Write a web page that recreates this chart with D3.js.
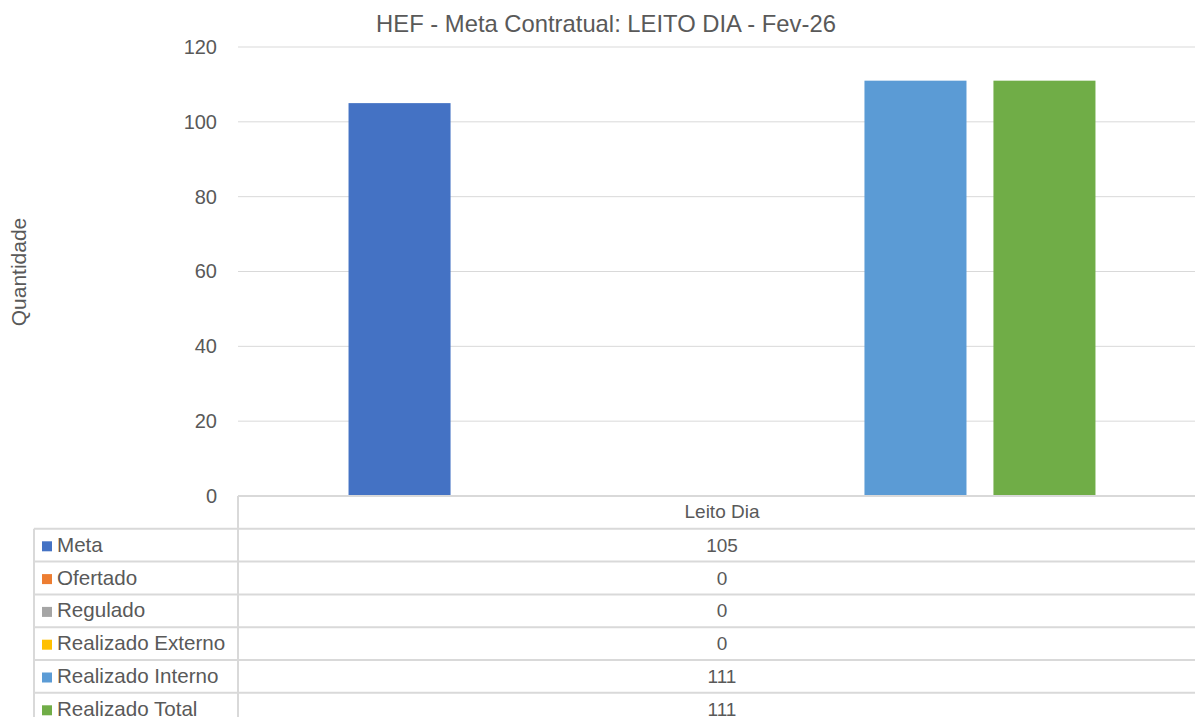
<!DOCTYPE html>
<html>
<head>
<meta charset="utf-8">
<script src="https://cdn.jsdelivr.net/npm/d3@7"></script>
<style>
  body { margin: 0; background: #fff; }
  svg { font-family: "Liberation Sans", Arial, sans-serif; }
</style>
</head>
<body>
<svg id="chart" width="1195" height="717"></svg>
<script>
const categories = ["Leito Dia"];
const seriesNames = ["Meta", "Ofertado", "Regulado", "Realizado Externo", "Realizado Interno", "Realizado Total"];
const seriesValues = [105, 0, 0, 0, 111, 111];
const seriesColors = ["#4472C4", "#ED7D31", "#A5A5A5", "#FFC000", "#5B9BD5", "#70AD47"];
const yTicks = [0, 20, 40, 60, 80, 100, 120];

const svg = d3.select("#chart");
const plot = { left: 238, right: 1206, top: 47, bottom: 496 };
const gridColor = "#d9d9d9";
const textColor = "#595959";

// title
svg.append("text")
    .attr("x", 606)
    .attr("y", 32)
    .attr("text-anchor", "middle")
    .attr("fill", textColor)
    .style("font-size", "23.8px")
    .text("HEF - Meta Contratual: LEITO DIA - Fev-26");

// y axis label
svg.append("text")
    .attr("transform", "translate(26,272) rotate(-90)")
    .attr("text-anchor", "middle")
    .attr("fill", textColor)
    .style("font-size", "21px")
    .text("Quantidade");

const y = d3.scaleLinear().domain([0, 120]).range([plot.bottom, plot.top]);
const x0 = d3.scaleBand().domain(categories).range([plot.left, plot.right]);
const x1 = d3.scaleBand().domain(seriesNames)
    .range([0, x0.bandwidth()]).paddingInner(0.209).paddingOuter(0.857);

// gridlines
svg.append("g")
    .selectAll("line")
    .data(yTicks.slice(1))
    .join("line")
    .attr("x1", plot.left)
    .attr("x2", plot.right)
    .attr("y1", d => y(d))
    .attr("y2", d => y(d))
    .attr("stroke", gridColor)
    .attr("stroke-width", 1);

// y ticks
const yAxis = svg.append("g")
    .attr("transform", `translate(${plot.left},0)`)
    .call(d3.axisLeft(y).tickValues(yTicks).tickSize(0).tickPadding(21));
yAxis.select(".domain").remove();
yAxis.selectAll("text")
    .attr("fill", textColor)
    .style("font-size", "20px")
    .style("font-family", "Liberation Sans, Arial, sans-serif");

// bars
const group = svg.append("g")
    .selectAll("g")
    .data(categories)
    .join("g")
    .attr("transform", d => `translate(${x0(d)},0)`);

group.selectAll("rect")
    .data(() => seriesNames.map((s, i) => ({ s, v: seriesValues[i], color: seriesColors[i] })))
    .join("rect")
    .attr("x", d => x1(d.s))
    .attr("width", x1.bandwidth())
    .attr("y", d => y(d.v))
    .attr("height", d => y(0) - y(d.v))
    .attr("fill", d => d.color);

// data table
const rowH = 32.8;
const tableLeft = 34;
const tableTop = plot.bottom;
const tbl = svg.append("g");

tbl.append("line")
    .attr("x1", plot.left).attr("x2", 1195)
    .attr("y1", tableTop).attr("y2", tableTop)
    .attr("stroke", gridColor).attr("stroke-width", 2);

tbl.append("text")
    .attr("x", x0(categories[0]) + x0.bandwidth() / 2)
    .attr("y", tableTop + 22)
    .attr("text-anchor", "middle")
    .attr("fill", textColor)
    .style("font-size", "19px")
    .text(categories[0]);

tbl.append("line")
    .attr("x1", plot.left).attr("x2", plot.left)
    .attr("y1", tableTop).attr("y2", 717)
    .attr("stroke", gridColor).attr("stroke-width", 2);
tbl.append("line")
    .attr("x1", tableLeft).attr("x2", tableLeft)
    .attr("y1", tableTop + rowH).attr("y2", 717)
    .attr("stroke", gridColor).attr("stroke-width", 2);

const rows = tbl.selectAll("g.row")
    .data(seriesNames)
    .join("g")
    .attr("class", "row")
    .attr("transform", (d, i) => `translate(0,${tableTop + rowH * (i + 1)})`);

rows.append("line")
    .attr("x1", tableLeft).attr("x2", 1195)
    .attr("y1", 0).attr("y2", 0)
    .attr("stroke", gridColor).attr("stroke-width", 2);

rows.append("rect")
    .attr("x", 42)
    .attr("y", 12.5)
    .attr("width", 10)
    .attr("height", 10)
    .attr("fill", (d, i) => seriesColors[i]);

rows.append("text")
    .attr("x", 57)
    .attr("y", 23)
    .attr("fill", textColor)
    .style("font-size", "20.6px")
    .text(d => d);

rows.append("text")
    .attr("x", x0(categories[0]) + x0.bandwidth() / 2)
    .attr("y", 23)
    .attr("text-anchor", "middle")
    .attr("fill", textColor)
    .style("font-size", "19px")
    .text((d, i) => seriesValues[i]);
</script>
</body>
</html>
